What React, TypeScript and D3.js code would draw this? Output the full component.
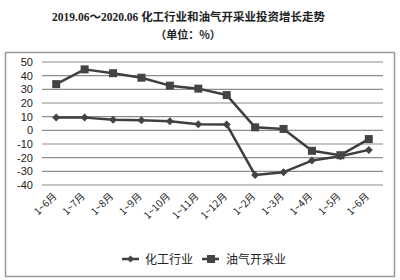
import React from "react";
import * as d3 from "d3";

const categories = ["1~6月", "1~7月", "1~8月", "1~9月", "1~10月", "1~11月", "1~12月", "1~2月", "1~3月", "1~4月", "1~5月", "1~6月"];
const chemical = [9.4, 9.3, 7.8, 7.4, 6.6, 4.4, 4.2, -32.7, -30.6, -22.1, -19.0, -14.3];
const oilGas = [33.8, 44.6, 41.8, 38.5, 32.7, 30.5, 25.8, 2.2, 1.0, -15.0, -18.2, -6.4];
const yTicks = [50, 40, 30, 20, 10, 0, -10, -20, -30, -40];
const seriesNames = ["化工行业", "油气开采业"];

export default function App() {
  const W = 400, H = 280;
  const x = d3.scaleBand<number>().domain(d3.range(categories.length)).range([42, 383]);
  const y = d3.scaleLinear().domain([-40, 50]).range([185, 62]);
  const cx = (i: number) => (x(i) as number) + x.bandwidth() / 2;
  const line = d3.line<number>().x((_, i) => cx(i)).y((v) => y(v));
  const dark = "#3f3f3f";
  const diamond = (px: number, py: number, r = 4) =>
    `M${px},${py - r}L${px + r},${py}L${px},${py + r}L${px - r},${py}Z`;
  return (
    <svg width={W} height={H} style={{ position: "absolute", left: 0, top: 0, background: "#fff" }}
      fontFamily="'Noto Sans CJK SC', 'Liberation Sans', sans-serif">
      <rect x={0} y={0} width={W} height={H} fill="#fff" />
      <text x={52} y={21} textAnchor="start" fontSize={11.5} fontWeight="bold" fill="#222">
        <tspan fontFamily="'Liberation Serif', serif">2019.06</tspan>
        <tspan fontFamily="'Noto Sans CJK SC', sans-serif">～</tspan>
        <tspan fontFamily="'Liberation Serif', serif">2020.06 </tspan>
        <tspan fontFamily="'Noto Sans CJK SC', sans-serif">化工行业和油气开采业投资增长走势</tspan>
      </text>
      <text x={188} y={39} textAnchor="middle" fontSize={11} fontWeight="bold" fill="#222">（单位：%）</text>
      <rect x={5.5} y={52.5} width={389} height={224} fill="none" stroke="#9a9a9a" strokeWidth={1.5} />
      {yTicks.map((t) => (
        <g key={t}>
          <line x1={42} x2={383} y1={y(t)} y2={y(t)} stroke="#8c8c8c" strokeWidth={1.2} />
          <text x={33} y={y(t) + 4} textAnchor="end" fontSize={11} fill="#222"
            fontFamily="'Liberation Sans', Arial, sans-serif">{t}</text>
        </g>
      ))}
      {categories.map((c, i) => (
        <text key={i} transform={`translate(${cx(i) + 1},${197}) rotate(-45)`} textAnchor="end"
          fontSize={10} fill="#222" fontFamily="'Noto Sans CJK SC', sans-serif">{c}</text>
      ))}
      <path d={line(oilGas) || ""} fill="none" stroke={dark} strokeWidth={2.5} strokeLinejoin="round" />
      <path d={line(chemical) || ""} fill="none" stroke={dark} strokeWidth={2.5} strokeLinejoin="round" />
      {oilGas.map((v, i) => (
        <rect key={"o" + i} x={cx(i) - 4} y={y(v) - 4} width={8} height={8} fill="#444" />
      ))}
      {chemical.map((v, i) => (
        <path key={"c" + i} d={diamond(cx(i), y(v), 4)} fill="#444" />
      ))}
      <g>
        <line x1={122} x2={139} y1={259} y2={259} stroke={dark} strokeWidth={2.5} />
        <path d={diamond(130.5, 259, 3.5)} fill="#444" />
        <text x={145} y={264} fontSize={12} fill="#222">{seriesNames[0]}</text>
        <line x1={202} x2={219} y1={259} y2={259} stroke={dark} strokeWidth={2.5} />
        <rect x={207} y={255} width={8} height={8} fill="#444" />
        <text x={226} y={264} fontSize={12} fill="#222">{seriesNames[1]}</text>
      </g>
    </svg>
  );
}
